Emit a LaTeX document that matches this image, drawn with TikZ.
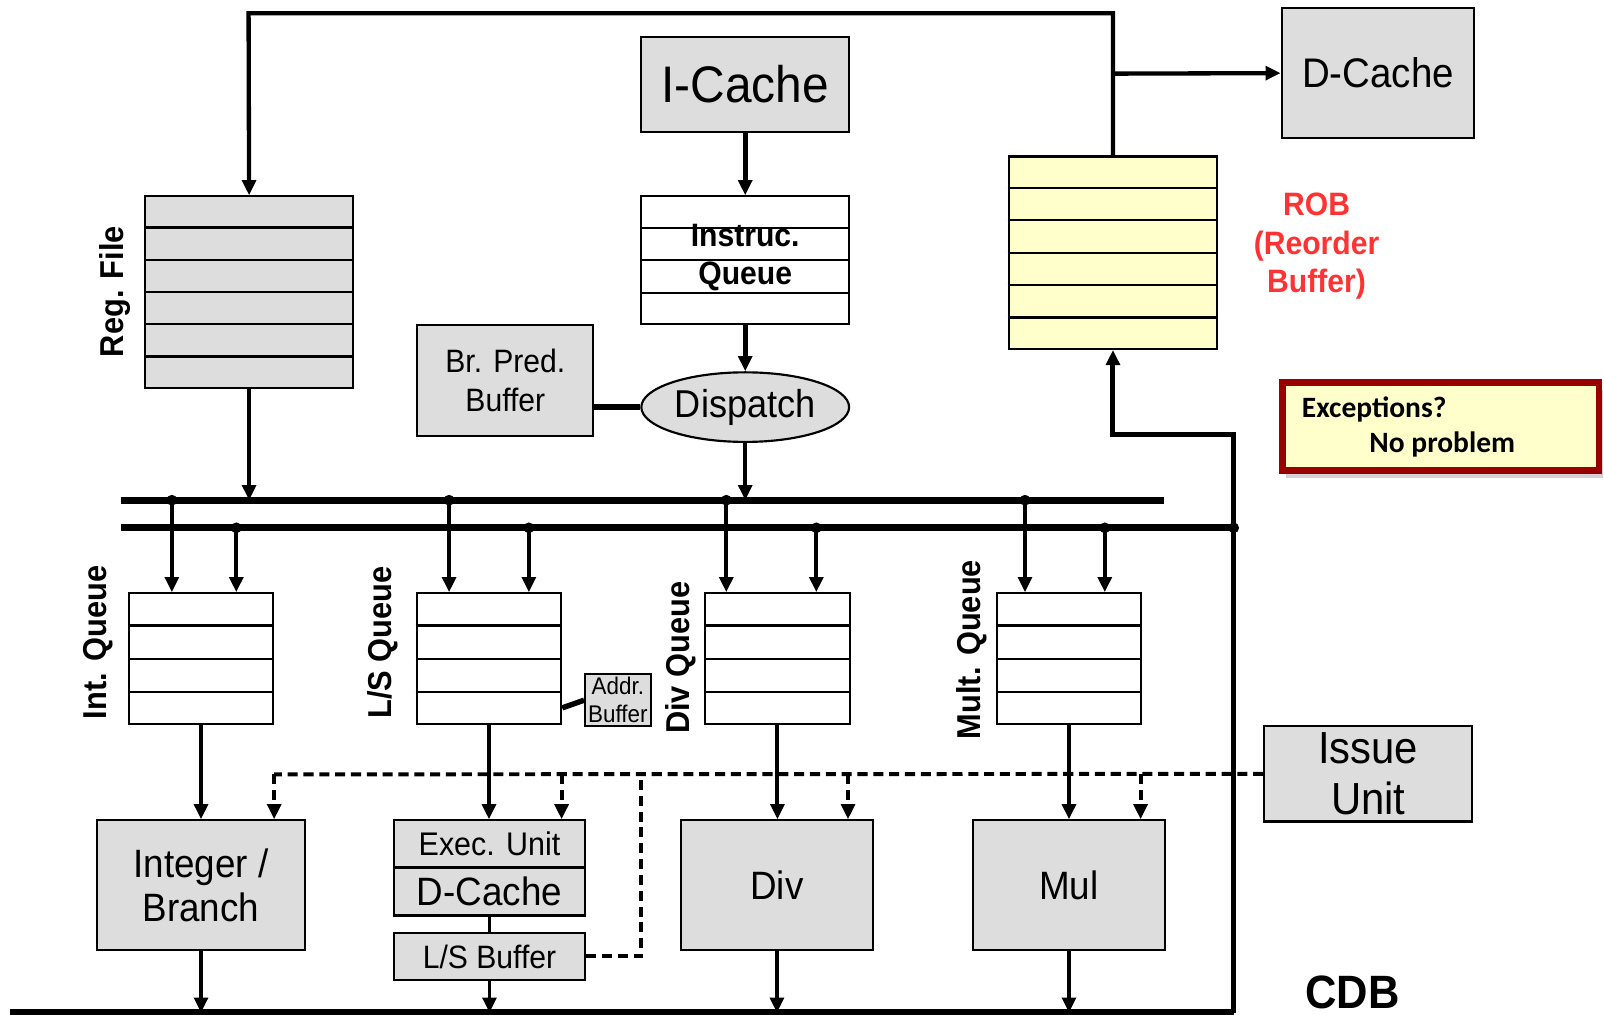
\documentclass[tikz,border=0pt]{standalone}
\usepackage{fontspec}
\setmainfont{Liberation Sans}[FakeStretch=0.93]
\newfontfamily\calfont{Carlito}
\usetikzlibrary{arrows.meta,calc,shapes.geometric,shadows}
\definecolor{boxgray}{HTML}{DDDDDD}
\definecolor{robyellow}{HTML}{FFFFCC}
\definecolor{robred}{HTML}{FF3333}
\definecolor{excred}{HTML}{990000}

\begin{document}
\begin{tikzpicture}[x=0.01cm,y=-0.01cm,
    box/.style={draw, line width=0.6pt, fill=boxgray, inner sep=0pt, align=center},
    queue/.style={draw, line width=0.6pt, fill=white, inner sep=0pt},
    vlabel/.style={rotate=90, font=\bfseries\fontsize{9.2}{10}\selectfont},
    arr/.style={line width=1.1pt, -{Triangle[length=4.2pt,width=3.8pt]}},
    bus/.style={line width=2pt},
    dline/.style={line width=1.1pt, dash pattern=on 2.8pt off 1.6pt}]
    \useasboundingbox (0,0) rectangle (1568,992);

    % front end
    \node[box, minimum width=2.03cm, minimum height=0.93cm, font=\fontsize{14.3}{16}\selectfont] (icache) at (728.5,82.5) {I-Cache};
    \node[queue, minimum width=2.03cm, minimum height=1.25cm] (iqueue) at (728.5,254.5) {};
    \node[box, minimum width=2.03cm, minimum height=1.87cm] (regfile) at (243.5,285.5) {};
    \node[vlabel] (reglabel) at (112,285) {Reg. File};
    \node[box, minimum width=1.72cm, minimum height=1.08cm, font=\fontsize{9}{10.8}\selectfont] (brpred) at (494,372) {Br. Pred.\\Buffer};
    \node[box, ellipse, minimum width=2.03cm, minimum height=0.68cm, font=\fontsize{10.8}{12}\selectfont] (dispatch) at (728.5,398) {Dispatch};

    % reorder buffer
    \node[box, fill=robyellow, minimum width=2.04cm, minimum height=1.88cm] (rob) at (1088,247) {};
    \node[align=center, text=robred, font=\bfseries\fontsize{9}{10.7}\selectfont] (robtext) at (1287,241) {ROB\\(Reorder\\Buffer)};
    \node[box, minimum width=1.88cm, minimum height=1.27cm, font=\fontsize{11.5}{13}\selectfont] (dcache) at (1347,71.5) {D-Cache};
    \node[draw=excred, line width=1.8pt, fill=robyellow, minimum width=3.09cm, minimum height=0.86cm,
        drop shadow={shadow xshift=1pt, shadow yshift=-2pt, opacity=0.35}] (exc) at (1408.5,417) {};
    \node[anchor=base west, inner sep=0pt, font=\calfont\bfseries\fontsize{8.2}{9.7}\selectfont] (exc1) at (1272,408) {Exceptions?};
    \node[anchor=base west, inner sep=0pt, font=\calfont\bfseries\fontsize{8.2}{9.7}\selectfont] (exc2) at (1338,442) {No problem};

    % issue queues
    \foreach \q/\x in {intq/196.5, lsq/478, divq/760, mulq/1045}
        \node[queue, minimum width=1.41cm, minimum height=1.28cm] (\q) at (\x,644) {};
    \node[vlabel] (intlabel) at (96,628) {Int. Queue};
    \node[vlabel] (lslabel) at (374,628) {L/S Queue};
    \node[vlabel] (divlabel) at (665,643) {Div Queue};
    \node[vlabel] (mullabel) at (950,635) {Mult. Queue};
    \node[box, minimum width=0.64cm, minimum height=0.51cm, font=\fontsize{6.7}{7.7}\selectfont] (addr) at (604,684.5) {Addr.\\Buffer};

    % rows
    \foreach \q/\n in {regfile/6, rob/6, iqueue/4, intq/4, lsq/4, divq/4, mulq/4} {
        \pgfmathtruncatemacro\m{\n-1}
        \foreach \k in {1,...,\m}
            \draw[line width=0.6pt] ($(\q.north west)!{\k/\n}!(\q.south west)$) -- ($(\q.north east)!{\k/\n}!(\q.south east)$);
    }
    \node[align=center, font=\bfseries\fontsize{9}{10.5}\selectfont] (iqtext) at (728.5,252) {Instruc.\\Queue};

    % functional units
    \node[box, minimum width=2.03cm, minimum height=1.27cm, font=\fontsize{11}{12.2}\selectfont] (intb) at (196.5,865.5) {Integer /\\Branch};
    \node[box, minimum width=1.87cm, minimum height=0.46cm, font=\fontsize{9.1}{10}\selectfont] (exec) at (478.5,825) {Exec. Unit};
    \node[box, minimum width=1.87cm, minimum height=0.47cm, font=\fontsize{11}{12}\selectfont] (lsdc) at (478.5,871.5) {D-Cache};
    \node[box, minimum width=1.87cm, minimum height=0.46cm, font=\fontsize{9}{10}\selectfont] (lsbuf) at (478.5,935) {L/S Buffer};
    \node[box, minimum width=1.87cm, minimum height=1.27cm, font=\fontsize{11}{12}\selectfont] (div) at (759.5,865.5) {Div};
    \node[box, minimum width=1.88cm, minimum height=1.27cm, font=\fontsize{11}{12}\selectfont] (mul) at (1045,865.5) {Mul};
    \node[box, minimum width=2.03cm, minimum height=0.93cm, font=\fontsize{12.5}{14}\selectfont] (issue) at (1337.5,756.5) {Issue\\Unit};
    \node[anchor=base, inner sep=0pt, font=\bfseries\fontsize{13}{14}\selectfont] (cdb) at (1322,986) {CDB};

    % buses
    \coordinate (topL) at (243,13);
    \coordinate (topR) at (1088,13);
    \coordinate (dtap) at (1088,72);
    \coordinate (busAw) at (118,489);
    \coordinate (busAe) at (1138,489);
    \coordinate (busBw) at (118,516);
    \coordinate (busBe) at (1206,516);
    \coordinate (cdbw) at (10,990);
    \coordinate (cdbe) at (1206,990);
    \coordinate (robin) at (1206,425);

    \draw[arr, line width=1.2pt] (rob.north) -- (topR) -- (topL) -- (regfile.north);
    \draw[arr, line width=1.2pt] (dtap) -- (dcache.west);
    \draw[arr, line width=1.5pt] (icache.south) -- (iqueue.north);
    \draw[arr, line width=1.3pt] (iqueue.south) -- (dispatch.north);
    \draw[line width=1.7pt] (brpred.east |- dispatch.west) -- (dispatch.west);
    \draw[arr] (dispatch.south) -- (dispatch.south |- busAw);
    \draw[arr] (regfile.south) -- (regfile.south |- busAw);

    \draw[bus] (busAw) -- (busAe);
    \draw[bus] (busBw) -- (busBe);
    \draw[line width=1.8pt] (cdbw) -- (cdbe);
    \draw[arr, line width=1.4pt] (cdbe) -- (robin) -- (robin -| rob.south) -- (rob.south);
    \fill (busBe) circle (1.5pt);

    \foreach \q/\a/\b in {intq/168/231, lsq/439/517, divq/710/798, mulq/1002/1080} {
        \coordinate (a\q) at (\a,489);
        \coordinate (b\q) at (\b,516);
        \fill (a\q) circle (1.5pt);
        \fill (b\q) circle (1.5pt);
        \draw[arr] (a\q) -- (a\q |- \q.north);
        \draw[arr] (b\q) -- (b\q |- \q.north);
    }

    \foreach \q/\u in {intq/intb, lsq/exec, divq/div, mulq/mul}
        \draw[arr] (\q.south) -- (\q.south |- \u.north);
    \foreach \u in {intb, lsbuf, div, mul}
        \draw[arr] (\u.south) -- (\u.south |- cdbw);
    \draw[line width=0.9pt] (lsdc.south) -- (lsbuf.north);
    \draw[line width=1.5pt] ([yshift=-0.48cm]lsq.east) -- (addr.west);

    % issue signals
    \coordinate (d0) at (268,757);
    \coordinate (d1) at (549,757);
    \coordinate (d2) at (829,757);
    \coordinate (d3) at (1115,757);
    \coordinate (d4) at (627,757);
    \draw[dline] (issue.west) -- (d0);
    \draw[dline, arr] (d0) -- (d0 |- intb.north);
    \draw[dline, arr] (d1) -- (d1 |- exec.north);
    \draw[dline, arr] (d2) -- (d2 |- div.north);
    \draw[dline, arr] (d3) -- (d3 |- mul.north);
    \draw[dline] (lsbuf.east) -| (d4);
\end{tikzpicture}
\end{document}
